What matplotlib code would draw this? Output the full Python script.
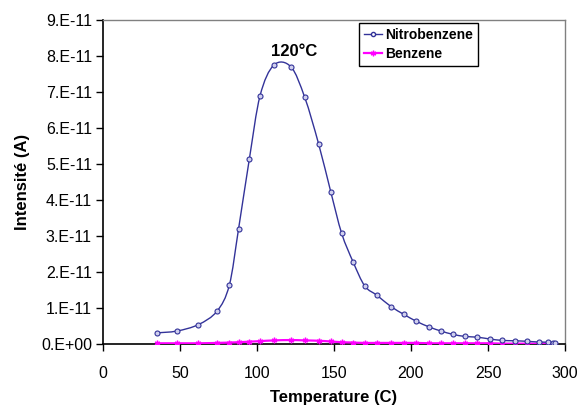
import numpy as np
import matplotlib.pyplot as plt
from matplotlib.path import Path
from matplotlib.patches import PathPatch
from matplotlib.lines import Line2D

plt.rcParams['font.family'] = ['Liberation Sans', 'DejaVu Sans']

# Temperature (C) and measured ion current (A, in units of 1e-11)
temperature = [35, 48, 62, 74, 82, 88, 95, 102, 111, 122,
               131, 140, 148, 155, 162.5, 170, 178, 187, 195.5, 203.5,
               212, 219.5, 227, 235, 243, 251, 259, 267.5, 275, 283,
               289, 292, 293.5]
nitrobenzene = [0.31, 0.36, 0.54, 0.91, 1.63, 3.19, 5.13, 6.90, 7.75, 7.70,
                6.85, 5.56, 4.21, 3.07, 2.27, 1.61, 1.35, 1.04, 0.82, 0.63,
                0.47, 0.36, 0.27, 0.21, 0.19, 0.14, 0.10, 0.09, 0.075, 0.055,
                0.05, 0.04, 0.04]
benzene = [0.02, 0.02, 0.02, 0.03, 0.04, 0.05, 0.065, 0.08, 0.10, 0.11,
           0.10, 0.09, 0.07, 0.05, 0.04, 0.03, 0.03, 0.03, 0.03, 0.03,
           0.02, 0.02, 0.02, 0.02, 0.02, 0.02, 0.01, 0.01, 0.01, 0.01,
           0.01, 0.01, 0.01]
scale = 1e-11

xticks = [0, 50, 100, 150, 200, 250, 300]
yticks = [i * scale for i in range(10)]
yticklabels = ["0.E+00", "1.E-11", "2.E-11", "3.E-11", "4.E-11",
               "5.E-11", "6.E-11", "7.E-11", "8.E-11", "9.E-11"]

peak_label = "120\u00b0C"
peak_pos = (124, 8.12e-11)

navy = "#333399"
magenta = "#ff00ff"


def smooth_path(x, y):
    # Catmull-Rom style cubic Bezier through every point (Excel "smoothed line")
    pts = np.column_stack([x, y])
    verts = [pts[0]]
    codes = [Path.MOVETO]
    n = len(pts)
    for i in range(n - 1):
        p0 = pts[max(i - 1, 0)]
        p1 = pts[i]
        p2 = pts[i + 1]
        p3 = pts[min(i + 2, n - 1)]
        c1 = p1 + (p2 - p0) / 6.0
        c2 = p2 - (p3 - p1) / 6.0
        verts += [c1, c2, p2]
        codes += [Path.CURVE4] * 3
    return Path(verts, codes)


fig = plt.figure(figsize=(5.8, 4.09), dpi=100)
ax = fig.add_axes([103 / 580, 65 / 409, 462 / 580, 324 / 409])

t = np.array(temperature, dtype=float)
nb = np.array(nitrobenzene) * scale
bz = np.array(benzene) * scale

ax.add_patch(PathPatch(smooth_path(t, bz), fill=False, edgecolor=magenta,
                       linewidth=1.6, zorder=3))
ax.add_patch(PathPatch(smooth_path(t, nb), fill=False, edgecolor=navy,
                       linewidth=1.0, zorder=4))
ax.plot(t, bz, linestyle="none", marker=(6, 2, 0), markersize=4,
        color=magenta, markeredgewidth=1.0, zorder=5)
ax.plot(t, nb, linestyle="none", marker="o", markersize=3.6,
        markerfacecolor="#d0d0ee", markeredgecolor=navy,
        markeredgewidth=0.8, zorder=6)

ax.set_xlim(0, 300)
ax.set_ylim(0, 9 * scale)
ax.set_xticks(xticks)
ax.set_yticks(yticks)
ax.set_yticklabels(yticklabels)
ax.tick_params(direction="out", length=5, width=1, labelsize=11.5, pad=3)
ax.tick_params(axis="x", pad=11)

for side in ("top", "right"):
    ax.spines[side].set_color("#808080")
    ax.spines[side].set_linewidth(1.0)
for side in ("left", "bottom"):
    ax.spines[side].set_color("black")
    ax.spines[side].set_linewidth(1.2)

ax.set_xlabel("Temperature (C)", fontsize=12, fontweight="bold", labelpad=6)
ax.set_ylabel("Intensité (A)", fontsize=12, fontweight="bold", labelpad=8)

ax.text(peak_pos[0], peak_pos[1], peak_label, fontsize=12,
        fontweight="bold", ha="center", va="center")

handles = [
    Line2D([], [], color=navy, linewidth=1.0, marker="o", markersize=3,
           markerfacecolor="white", markeredgecolor=navy),
    Line2D([], [], color=magenta, linewidth=1.6, marker=(6, 2, 0),
           markersize=4),
]
leg = ax.legend(handles, ["Nitrobenzene", "Benzene"], loc="upper left",
                bbox_to_anchor=(0.554, 0.991), borderaxespad=0,
                prop={"weight": "bold", "size": 10}, handlelength=1.3,
                handletextpad=0.25, borderpad=0.35, labelspacing=0.4,
                fancybox=False, framealpha=1, edgecolor="black")
leg.get_frame().set_linewidth(1.0)

fig.savefig("out.png", dpi=100)
